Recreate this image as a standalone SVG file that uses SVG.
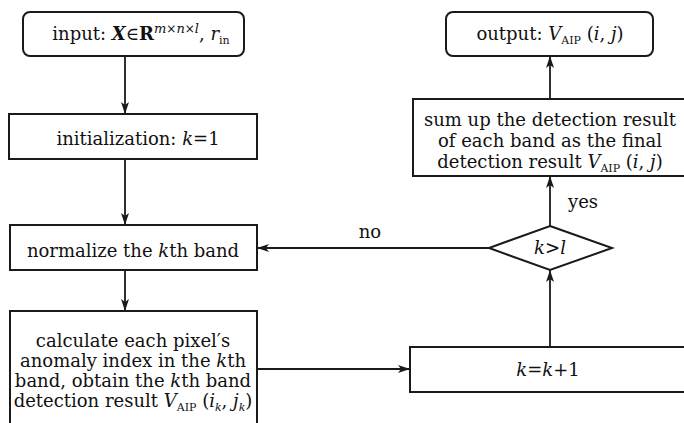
<svg xmlns="http://www.w3.org/2000/svg" width="684" height="423" viewBox="0 0 684 423">
<style>
  .box{fill:#fff;stroke:#1a1a1a;stroke-width:2}
  .ln{fill:none;stroke:#1a1a1a;stroke-width:1.8}
  text{font-family:"DejaVu Serif","Liberation Serif",serif;font-size:18px;fill:#111;text-anchor:middle}
  .i{font-style:italic}
  .b{font-weight:bold}
  .sub{font-size:11px}
  .sup{font-size:13px;font-style:italic}
</style>
<defs>
  <marker id="ah" viewBox="0 0 12 8" refX="12" refY="4" markerWidth="12" markerHeight="8" markerUnits="userSpaceOnUse" orient="auto">
    <path d="M0,0 L12,4 L0,8 L3,4 z" fill="#1a1a1a"/>
  </marker>
</defs>
<rect width="684" height="423" fill="#fff"/>

<g id="connectors">
  <line class="ln" x1="125" y1="56" x2="125" y2="114" marker-end="url(#ah)"/>
  <line class="ln" x1="125" y1="159" x2="125" y2="225" marker-end="url(#ah)"/>
  <line class="ln" x1="125" y1="270" x2="125" y2="311" marker-end="url(#ah)"/>
  <line class="ln" x1="257" y1="369" x2="410" y2="369" marker-end="url(#ah)"/>
  <line class="ln" x1="550" y1="347" x2="550" y2="270" marker-end="url(#ah)"/>
  <line class="ln" x1="489" y1="248" x2="257" y2="248" marker-end="url(#ah)"/>
  <line class="ln" x1="550" y1="226" x2="550" y2="176" marker-end="url(#ah)"/>
  <line class="ln" x1="550" y1="99" x2="550" y2="56" marker-end="url(#ah)"/>
  <text x="370" y="238">no</text>
  <text x="583" y="208">yes</text>
</g>

<g id="input">
  <rect class="box" x="23" y="12" width="221" height="44" rx="7"/>
  <text x="141" y="40">input: <tspan class="b i">X</tspan>∈<tspan class="b">R</tspan><tspan class="sup" dy="-7">m</tspan><tspan font-size="12px">×</tspan><tspan class="sup">n</tspan><tspan font-size="12px">×</tspan><tspan class="sup">l</tspan><tspan dy="7">, </tspan><tspan class="i">r</tspan><tspan class="sub" dy="4">in</tspan></text>
</g>

<g id="init">
  <rect class="box" x="9" y="114" width="248" height="45"/>
  <text x="138" y="145">initialization: <tspan class="i">k</tspan>=1</text>
</g>

<g id="normalize">
  <rect class="box" x="10" y="225" width="247" height="45"/>
  <text x="133" y="257">normalize the <tspan class="i">k</tspan>th band</text>
</g>

<g id="calculate">
  <rect class="box" x="10" y="311" width="247" height="120"/>
  <text x="133" y="347">calculate each pixel′s</text>
  <text x="133" y="367">anomaly index in the <tspan class="i">k</tspan>th</text>
  <text x="133" y="387">band, obtain the <tspan class="i">k</tspan>th band</text>
  <text x="133" y="407">detection result <tspan class="i">V</tspan><tspan class="sub" dy="4">AIP</tspan><tspan dy="-4"> (</tspan><tspan class="i">i</tspan><tspan class="sub i" dy="4">k</tspan><tspan dy="-4">, </tspan><tspan class="i">j</tspan><tspan class="sub i" dy="4">k</tspan><tspan dy="-4">)</tspan></text>
</g>

<g id="increment">
  <rect class="box" x="410" y="347" width="280" height="45"/>
  <text x="548" y="376"><tspan class="i">k</tspan>=<tspan class="i">k</tspan>+1</text>
</g>

<g id="decision">
  <polygon class="box" points="550,226 612,248 550,270 489,248"/>
  <text x="550" y="254"><tspan class="i">k</tspan>&gt;<tspan class="i">l</tspan></text>
</g>

<g id="sum">
  <rect class="box" x="413" y="99" width="280" height="77"/>
  <text x="550" y="126">sum up the detection result</text>
  <text x="550" y="147">of each band as the final</text>
  <text x="550" y="168">detection result <tspan class="i">V</tspan><tspan class="sub" dy="4">AIP</tspan><tspan dy="-4"> (</tspan><tspan class="i">i</tspan>, <tspan class="i">j</tspan>)</text>
</g>

<g id="output">
  <rect class="box" x="446" y="12" width="207" height="44" rx="7"/>
  <text x="550" y="40">output: <tspan class="i">V</tspan><tspan class="sub" dy="4">AIP</tspan><tspan dy="-4"> (</tspan><tspan class="i">i</tspan>, <tspan class="i">j</tspan>)</text>
</g>
</svg>
